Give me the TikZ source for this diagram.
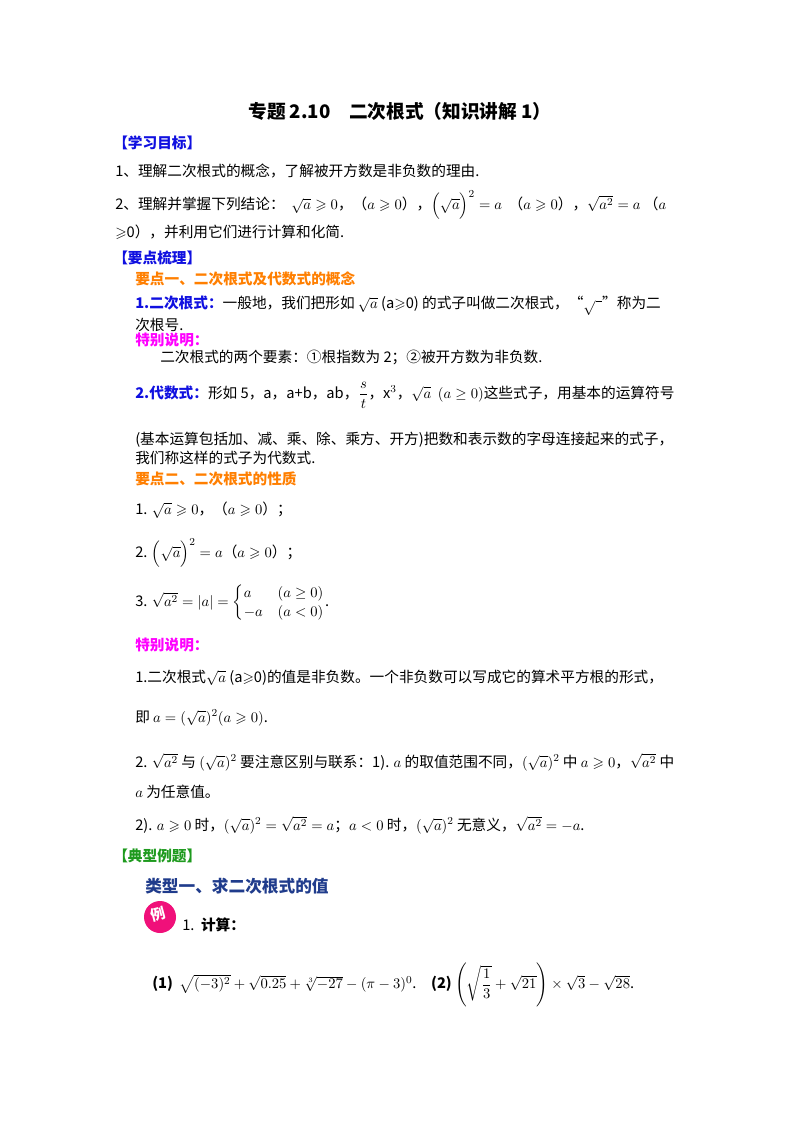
\documentclass[tikz,border=0pt]{standalone}
\usepackage{amsmath,amssymb}
\usepackage{fontspec}
\setmainfont{Noto Sans CJK SC}
\definecolor{tblue}{HTML}{1010E0}
\definecolor{torange}{HTML}{FF7F00}
\definecolor{tmag}{HTML}{FF00FF}
\definecolor{tgreen}{HTML}{1E9A1E}
\definecolor{tdblue}{HTML}{203C8C}
\definecolor{tpink}{HTML}{F0107A}
\begin{document}
\begin{tikzpicture}[x=0.75pt,y=-0.75pt,
  every node/.style={inner sep=0pt,anchor=west,font=\fontsize{11}{12}\selectfont},
  head/.style={font=\fontsize{11}{12}\selectfont\bfseries},
  sub/.style={font=\fontsize{11}{12}\selectfont\bfseries,text=torange}]
\useasboundingbox (0,0) rectangle (800,1132);
\fill[white] (0,0) rectangle (800,1132);
\node[anchor=center,font=\fontsize{14}{16}\selectfont\bfseries] (title) at (400,111) {专题 2.10\quad 二次根式（知识讲解 1）};
\node[head,text=tblue] (h1) at (113,143) {【学习目标】};
\node (l1) at (115,171) {1、理解二次根式的概念，了解被开方数是非负数的理由.};
\node (l2) at (115,205) {2、理解并掌握下列结论：\ \ $\sqrt{a}\geqslant0$，（$a\geqslant0$），$\Big(\sqrt{a}\Big)^2=a$\ \ （$a\geqslant0$），$\sqrt{a^2}=a$\ （$a$};
\node (l3) at (115,232) {$\geqslant$0），并利用它们进行计算和化简.};
\node[head,text=tblue] (h2) at (113,258) {【要点梳理】};
\node[sub] (s1) at (135,279) {要点一、二次根式及代数式的概念};
\node (l4) at (135,306) {\textcolor{tblue}{\bfseries 1.二次根式：}一般地，我们把形如 $\sqrt{a}$ (a$\geqslant$0) 的式子叫做二次根式，“$\sqrt{\ \ }$”称为二};
\node (l5) at (135,325) {次根号.};
\node[head,text=tmag] (m1) at (135,340) {特别说明：};
\node (l6) at (160,357) {二次根式的两个要素：①根指数为 2；②被开方数为非负数.};
\node (l7) at (135,395) {\textcolor{tblue}{\bfseries 2.代数式：}形如 5，a，a+b，ab，$\dfrac{s}{t}$，x$^3$，$\sqrt{a}\ \ (a\geq0)$这些式子，用基本的运算符号};
\node (l8) at (135,440) {(基本运算包括加、减、乘、除、乘方、开方)把数和表示数的字母连接起来的式子，};
\node (l9) at (135,458) {我们称这样的式子为代数式.};
\node[sub] (s2) at (135,479) {要点二、二次根式的性质};
\node (p1) at (135,510) {1. $\sqrt{a}\geqslant0$，（$a\geqslant0$）；};
\node (p2) at (135,553) {2. $\Big(\sqrt{a}\Big)^2=a$（$a\geqslant0$）；};
\node (p3) at (135,603) {3. $\sqrt{a^2}=|a|=\begin{cases}a & (a\geq0)\\ -a & (a<0)\end{cases}$.};
\node[head,text=tmag] (m2) at (135,645) {特别说明：};
\node (q1) at (135,678) {1.二次根式$\sqrt{a}$ (a$\geqslant$0)的值是非负数。一个非负数可以写成它的算术平方根的形式，};
\node (q2) at (135,718) {即 $a=(\sqrt{a})^2(a\geqslant0)$.};
\node (q3) at (135,762) {2. $\sqrt{a^2}$ 与 $(\sqrt{a})^2$ 要注意区别与联系：1). $a$ 的取值范围不同，$(\sqrt{a})^2$ 中 $a\geqslant0$，$\sqrt{a^2}$ 中};
\node (q4) at (135,792) {$a$ 为任意值。};
\node (q5) at (135,825) {2). $a\geqslant0$ 时，$(\sqrt{a})^2=\sqrt{a^2}=a$；$a<0$ 时，$(\sqrt{a})^2$ 无意义，$\sqrt{a^2}=-a$.};
\node[head,text=tgreen] (h3) at (113,856) {【典型例题】};
\node[font=\fontsize{12.5}{14}\selectfont\bfseries,text=tdblue] (t1) at (145,886) {类型一、求二次根式的值};
\fill[tpink] (160,917) circle (16);
\node[anchor=center,text=white,font=\fontsize{11}{13}\selectfont\bfseries,rotate=15] (badge) at (158,914) {例};
\node (e1) at (182,925) {1.\ \ {\bfseries 计算：}};
\node (e2) at (152,985) {{\bfseries (1)}\ \ $\sqrt{(-3)^2}+\sqrt{0.25}+\sqrt[3]{-27}-(\pi-3)^0$.\quad {\bfseries (2)}\ $\left(\sqrt{\dfrac{1}{3}}+\sqrt{21}\right)\times\sqrt{3}-\sqrt{28}$.};
\end{tikzpicture}
\end{document}
